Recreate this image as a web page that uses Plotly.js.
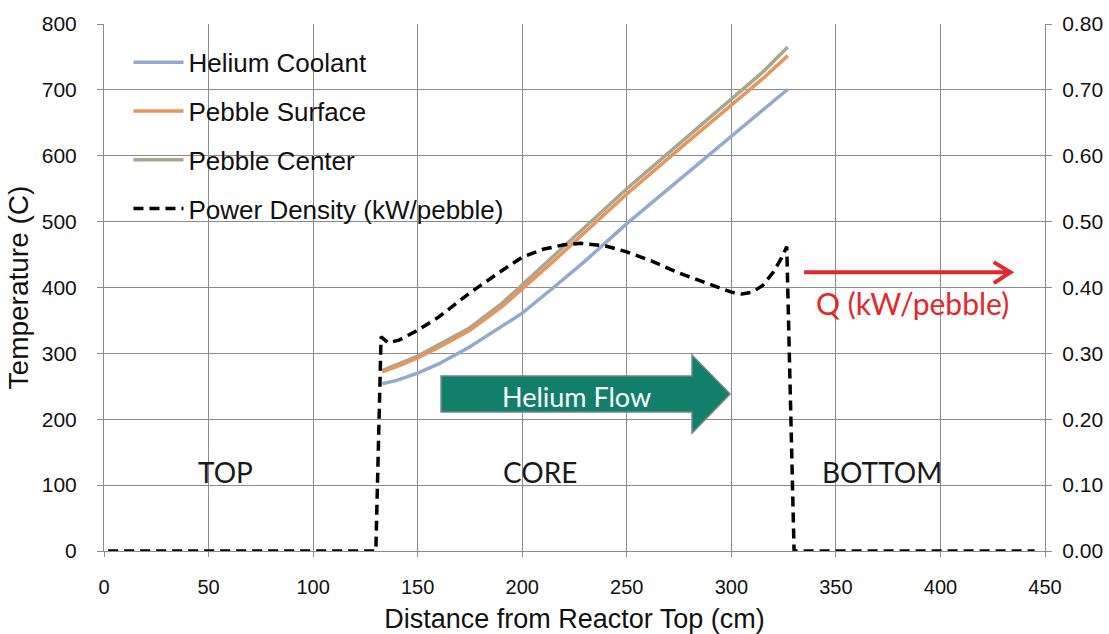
<!DOCTYPE html>
<html>
<head>
<meta charset="utf-8">
<script src="https://cdn.plot.ly/plotly-3.0.1.min.js"></script>
<style>html,body{margin:0;padding:0;background:#fff;}#chart{width:1109px;height:634px;}</style>
</head>
<body>
<div id="chart"></div>
<script>
// Temperature profiles (x in cm from reactor top, T in C)
const tempX      = [133, 140, 150, 160, 175, 190, 200, 215, 230, 250, 275, 300, 315, 327];
const heliumT    = [254, 259, 270, 284, 310, 340, 361, 400, 440, 497, 563, 630, 669, 701];
const surfaceT   = [272, 280, 293, 309, 335, 370, 398, 440, 484, 542, 610, 677, 717, 752];
const centerT    = [274, 283, 296, 313, 339, 375, 404, 447, 492, 550, 618, 686, 727, 765];

// Power density (kW/pebble)
const powerX = [2, 130, 132.5, 136, 141, 150, 160, 175, 190, 200, 210, 220, 228, 240, 250, 262, 275, 290, 300, 305, 310, 315, 320, 324, 326.5, 330, 445];
const powerQ = [0, 0, 0.325, 0.316, 0.320, 0.335, 0.355, 0.392, 0.425, 0.446, 0.458, 0.465, 0.467, 0.463, 0.454, 0.440, 0.422, 0.404, 0.393, 0.390, 0.393, 0.403, 0.423, 0.445, 0.462, 0, 0];

const seriesNames = ["Helium Coolant", "Pebble Surface", "Pebble Center", "Power Density (kW/pebble)"];
const regionLabels = ["TOP", "CORE", "BOTTOM"];
const regionX = [58, 208.5, 372];

const txtFont = "Liberation Sans, Arial, sans-serif";
const gothic = "Lato, Noto Sans, sans-serif";

const traces = [
  {x: tempX, y: heliumT, name: seriesNames[0], mode: "lines", legendgroup: "a",
   line: {color: "#93a9cf", width: 3.5}},
  {x: tempX, y: centerT, name: seriesNames[2], mode: "lines", legendgroup: "c", showlegend: false,
   line: {color: "#a8a690", width: 3.5}},
  {x: tempX, y: surfaceT, name: seriesNames[1], mode: "lines", legendgroup: "b",
   line: {color: "#e8955c", width: 3.5}},
  {x: [null], y: [null], name: seriesNames[2], mode: "lines", legendgroup: "c",
   line: {color: "#a8a690", width: 3.5}},
  {x: powerX, y: powerQ, name: seriesNames[3], mode: "lines", yaxis: "y2", legendgroup: "d",
   line: {color: "#000", width: 3.5, dash: "10px,6px"}}
];

const annotations = regionLabels.map((t, i) => ({
  x: regionX[i], y: 120, xref: "x", yref: "y", text: t, showarrow: false,
  font: {family: gothic, size: 28, color: "#1a1a1a"}
}));
annotations.push({x: 226, y: 235, xref: "x", yref: "y", text: "Helium Flow", showarrow: false,
  font: {family: gothic, size: 27, color: "#ffffff"}});
annotations.push({x: 386.4, y: 376, xref: "x", yref: "y", text: "Q (kW/pebble)", showarrow: false,
  font: {family: gothic, size: 30, color: "#e5262b"}});

const shapes = [
  {type: "path", xref: "x", yref: "y",
   path: "M161.2,265.6 L281.2,265.6 L281.2,297.4 L299.4,238.3 L281.2,179 L281.2,211 L161.2,211 Z",
   fillcolor: "#117f69", line: {color: "#6f8785", width: 1.5}, layer: "above"},
  {type: "path", xref: "x", yref: "y",
   path: "M334.8,423 L433,423 M425.5,438.5 L433.5,423 L425.5,406.7",
   line: {color: "#e5262b", width: 4}, layer: "above"}
];

const layout = {
  width: 1109, height: 634,
  margin: {l: 104, r: 64, t: 24, b: 83},
  paper_bgcolor: "#fff", plot_bgcolor: "#fff",
  font: {family: txtFont, color: "#111"},
  xaxis: {range: [0, 450], dtick: 50, tick0: 0, showgrid: true, gridcolor: "#8c8c8c", gridwidth: 1,
          showline: true, linecolor: "#8c8c8c", linewidth: 1, ticks: "outside", ticklen: 5, tickcolor: "#8c8c8c",
          zeroline: false, tickfont: {size: 20, family: txtFont}, ticklabelstandoff: 13,
          title: {text: "Distance from Reactor Top (cm)", font: {size: 27, family: txtFont}, standoff: 14}},
  yaxis: {range: [0, 800], dtick: 100, showgrid: true, gridcolor: "#8c8c8c", gridwidth: 1,
          showline: true, linecolor: "#8c8c8c", linewidth: 1, ticks: "outside", ticklen: 6, tickcolor: "#8c8c8c",
          zeroline: false, tickfont: {size: 21, family: txtFont}, ticklabelstandoff: 16,
          title: {text: "Temperature (C)", font: {size: 28, family: txtFont}, standoff: 4}},
  yaxis2: {range: [0, 0.8], dtick: 0.1, overlaying: "y", side: "right", showgrid: false, tickformat: ".2f",
           showline: true, linecolor: "#8c8c8c", linewidth: 1, ticks: "outside", ticklen: 6, tickcolor: "#8c8c8c",
           zeroline: false, tickfont: {size: 21, family: txtFont}, ticklabelstandoff: 6},
  showlegend: true,
  legend: {x: 0.026, y: 0.972, xanchor: "left", yanchor: "top", bgcolor: "rgba(0,0,0,0)",
           traceorder: "grouped", tracegroupgap: 12, itemwidth: 50,
           font: {size: 26, family: txtFont, color: "#111"}},
  annotations: annotations,
  shapes: shapes
};

Plotly.newPlot("chart", traces, layout, {displayModeBar: false, staticPlot: true});
</script>
</body>
</html>
